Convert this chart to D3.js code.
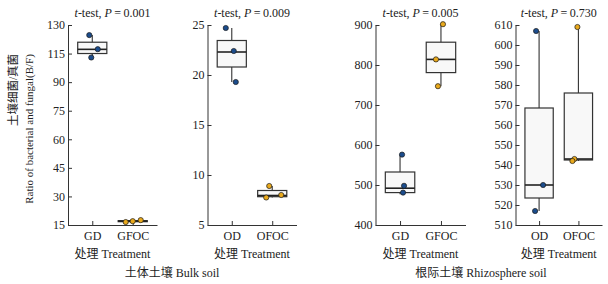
<html>
  <meta charset="utf-8" />
  <script src="https://d3js.org/d3.v7.min.js"></script>
  <body style="margin: 0; background: #fff">
    <svg width="608" height="284" id="chart"></svg>
    <script>
      // values (3 replicates per treatment)
      const bulkGD = [124.2, 116.1, 111.3];
      const bulkGFOC = [16.7, 17.2, 17.8];
      const bulkOD = [24.7, 22.4, 19.3];
      const bulkOFOC = [8.9, 7.75, 8.0];
      const rhizoGD = [576, 498, 481];
      const rhizoGFOC = [902, 814, 747];
      const rhizoOD = [607, 530, 517];
      const rhizoOFOC = [609, 543, 542];

      // box stats: [whisker low, q1, median, q3, whisker high]
      const boxBulkGD = [111.3, 113.6, 116, 120.1, 124.2];
      const boxBulkGFOC = [16.7, 16.9, 17.2, 17.5, 17.8];
      const boxBulkOD = [19.3, 20.8, 22.3, 23.45, 24.7];
      const boxBulkOFOC = [7.75, 7.83, 7.95, 8.45, 8.9];
      const boxRhizoGD = [477, 481, 492, 532.5, 576];
      const boxRhizoGFOC = [747, 781, 814, 857, 902];
      const boxRhizoOD = [517, 523.5, 530, 568.5, 607];
      const boxRhizoOFOC = [542, 542.5, 543, 576, 609];

      const groupsDry = ["GD", "GFOC"];
      const groupsOas = ["OD", "OFOC"];
      const pValues = ["0.001", "0.009", "0.005", "0.730"];

      // tick labels as printed (panel 1 labels are not evenly valued)
      const ticks1 = ["15", "30", "45", "60", "75", "90", "115", "130"];
      const ticks2 = [5, 10, 15, 20, 25];
      const ticks3 = [400, 500, 600, 700, 800, 900];
      const ticks4 = [510, 520, 530, 540, 550, 560, 570, 580, 590, 600, 610];

      // horizontal jitter of the points, px
      const jitter = [
        [[-3, 5.5, -1], [-7, 0, 8]],
        [[-6, 2, 4], [-3, -6, 9]],
        [[2, 4, 3], [2, -5, -3]],
        [[-3, 4, -4], [-1, -4, -6]],
      ];

      const colors = ["#1b4c8c", "#e9a91c"];
      const font = "'Liberation Serif', 'Noto Sans CJK SC', serif";

      const panels = [
        {
          x: [68, 157], groups: groupsDry, dom: [15, 130],
          tickVals: d3.range(8).map((i) => 15 + (i * 115) / 7),
          tickFmt: (d, i) => ticks1[i],
          points: [bulkGD, bulkGFOC], boxes: [boxBulkGD, boxBulkGFOC],
        },
        {
          x: [207.5, 296.5], groups: groupsOas, dom: [5, 25],
          tickVals: ticks2, tickFmt: d3.format("d"),
          points: [bulkOD, bulkOFOC], boxes: [boxBulkOD, boxBulkOFOC],
        },
        {
          x: [375.5, 465.5], groups: groupsDry, dom: [400, 900],
          tickVals: ticks3, tickFmt: d3.format("d"),
          points: [rhizoGD, rhizoGFOC], boxes: [boxRhizoGD, boxRhizoGFOC],
        },
        {
          x: [515.5, 602], groups: groupsOas, dom: [510, 610],
          tickVals: ticks4, tickFmt: d3.format("d"),
          points: [rhizoOD, rhizoOFOC], boxes: [boxRhizoOD, boxRhizoOFOC],
        },
      ];

      const plotTop = 25;
      const plotBottom = 225;
      const svg = d3.select("#chart").style("font-family", font);

      panels.forEach((p, pi) => {
        const x = d3.scalePoint().domain(p.groups).range(p.x).padding(0.6);
        const y = d3.scaleLinear().domain(p.dom).range([plotBottom, plotTop]);
        const boxW = x.step() * 0.72;
        const g = svg.append("g");

        const yAxis = g
          .append("g")
          .attr("transform", `translate(${p.x[0]},0)`)
          .call(
            d3.axisLeft(y).tickValues(p.tickVals).tickFormat(p.tickFmt)
              .tickSizeInner(-4).tickSizeOuter(0).tickPadding(3)
          );
        const xAxis = g
          .append("g")
          .attr("transform", `translate(0,${plotBottom})`)
          .call(
            d3.axisBottom(x).tickSizeInner(-4).tickSizeOuter(0).tickPadding(6)
          );
        [yAxis, xAxis].forEach((a) => {
          a.selectAll("path, line").attr("stroke", "#333").attr("stroke-width", 1);
          a.selectAll("text")
            .attr("font-family", font)
            .attr("font-size", 12)
            .attr("fill", "#222");
        });

        p.groups.forEach((grp, gi) => {
          const b = p.boxes[gi];
          const cx = x(grp);
          // whiskers
          g.append("line")
            .attr("x1", cx).attr("x2", cx)
            .attr("y1", y(b[0])).attr("y2", y(b[4]))
            .attr("stroke", "#333").attr("stroke-width", 1.1);
          g.append("rect")
            .attr("x", cx - boxW / 2)
            .attr("width", boxW)
            .attr("y", y(b[3]))
            .attr("height", Math.max(y(b[1]) - y(b[3]), 0.5))
            .attr("fill", "#f8f8f8")
            .attr("stroke", "#333")
            .attr("stroke-width", 1.2);
          g.append("line")
            .attr("x1", cx - boxW / 2).attr("x2", cx + boxW / 2)
            .attr("y1", y(b[2])).attr("y2", y(b[2]))
            .attr("stroke", "#222").attr("stroke-width", 1.6);

          g.selectAll(null)
            .data(p.points[gi])
            .enter()
            .append("circle")
            .attr("cx", (d, i) => cx + jitter[pi][gi][i])
            .attr("cy", (d) => y(d))
            .attr("r", 2.6)
            .attr("fill", colors[gi])
            .attr("stroke", "#1a1a1a")
            .attr("stroke-width", 0.7);
        });

        const mid = (p.x[0] + p.x[1]) / 2;
        const title = g
          .append("text")
          .attr("x", mid)
          .attr("y", 17)
          .attr("text-anchor", "middle")
          .attr("font-size", 12)
          .attr("fill", "#222");
        title.append("tspan").attr("font-style", "italic").text("t");
        title.append("tspan").text("-test, ");
        title.append("tspan").attr("font-style", "italic").text("P");
        title.append("tspan").text("\u2009=\u2009" + pValues[pi]);

        g.append("text")
          .attr("x", mid)
          .attr("y", 258)
          .attr("text-anchor", "middle")
          .attr("font-size", 12)
          .attr("fill", "#222")
          .text("处理 Treatment");
      });

      svg
        .append("text")
        .attr("x", 172)
        .attr("y", 277)
        .attr("text-anchor", "middle")
        .attr("font-size", 12)
        .attr("fill", "#222")
        .text("土体土壤 Bulk soil");
      svg
        .append("text")
        .attr("x", 481)
        .attr("y", 277)
        .attr("text-anchor", "middle")
        .attr("font-size", 12)
        .attr("fill", "#222")
        .text("根际土壤 Rhizosphere soil");

      // y axis title, two lines
      svg
        .append("text")
        .attr("transform", "translate(17,90) rotate(-90)")
        .attr("text-anchor", "middle")
        .attr("font-size", 11.5)
        .attr("fill", "#222")
        .text("土壤细菌/真菌");
      svg
        .append("text")
        .attr("transform", "translate(33,129) rotate(-90)")
        .attr("text-anchor", "middle")
        .attr("font-size", 11)
        .attr("fill", "#222")
        .text("Ratio of bacterial and fungal(B/F)");
    </script>
  </body>
</html>
